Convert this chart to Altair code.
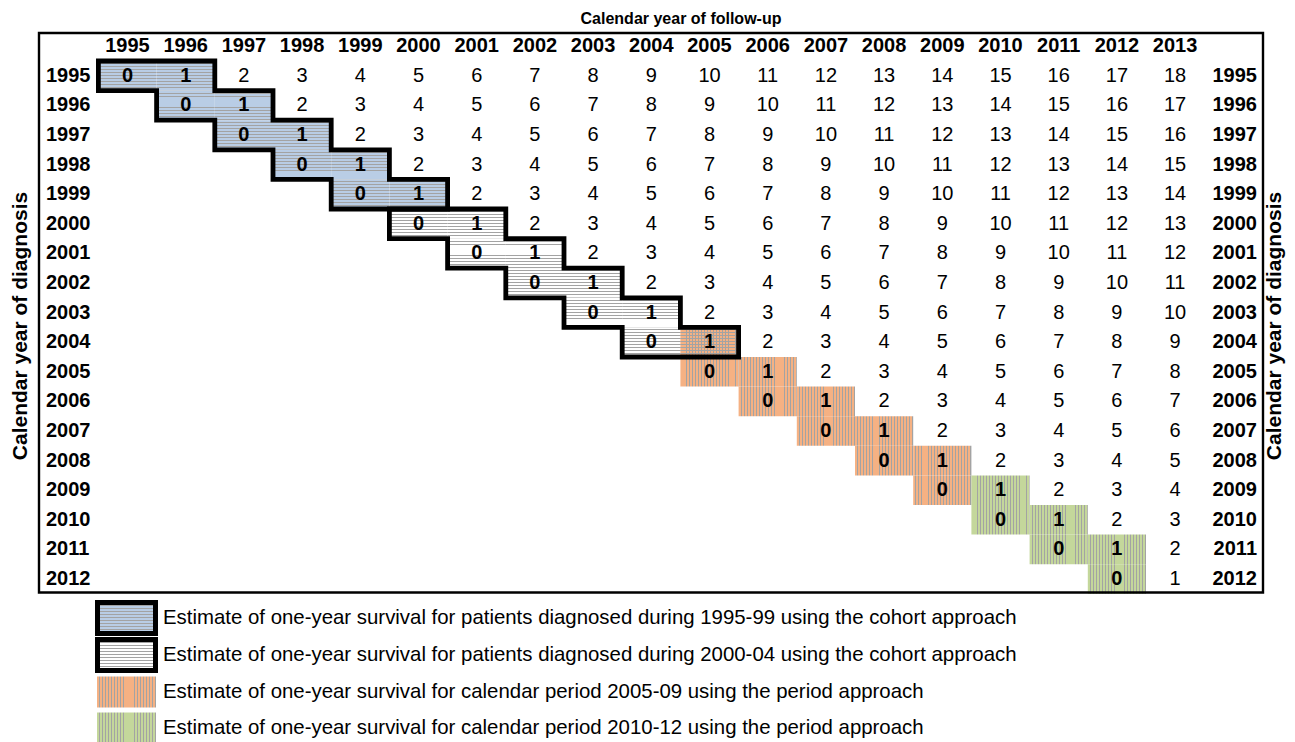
import altair as alt
import pandas as pd

# ---------------- data ----------------
diag_years = [1995, 1996, 1997, 1998, 1999, 2000, 2001, 2002, 2003, 2004,
              2005, 2006, 2007, 2008, 2009, 2010, 2011, 2012]
follow_years = [1995, 1996, 1997, 1998, 1999, 2000, 2001, 2002, 2003, 2004,
                2005, 2006, 2007, 2008, 2009, 2010, 2011, 2012, 2013]
cohort_a = [1995, 1996, 1997, 1998, 1999]      # diagnosed 1995-99 (cohort)
cohort_b = [2000, 2001, 2002, 2003, 2004]      # diagnosed 2000-04 (cohort)
period_a = [2005, 2006, 2007, 2008, 2009]      # calendar period 2005-09
period_b = [2010, 2011, 2012]                  # calendar period 2010-12
legend_labels = [
    "Estimate of one-year survival for patients diagnosed during 1995-99 using the cohort approach",
    "Estimate of one-year survival for patients diagnosed during 2000-04 using the cohort approach",
    "Estimate of one-year survival for calendar period 2005-09 using the period approach",
    "Estimate of one-year survival for calendar period 2010-12 using the period approach",
]
top_title = "Calendar year of follow-up"
side_title = "Calendar year of diagnosis"

# ---------------- layout / style ----------------
FONT = "Liberation Sans, Arial, sans-serif"
W, H = 1279, 734
COL_W, ROW_H = 58.2, 29.6
X0, Y0 = 90.4, 53.0
FIRST = diag_years[0]
FS = 20

BLUE, WHITE, ORANGE, GREEN = "#b9cde5", "#ffffff", "#f5b183", "#c4d79b"
LINE = "#a3a3a3"

xscale = alt.Scale(domain=[-X0 / COL_W, (W - X0) / COL_W], nice=False, zero=False)
yscale = alt.Scale(domain=[-Y0 / ROW_H, (H - Y0) / ROW_H], nice=False, zero=False, reverse=True)


def stripes(bg, line, vertical, n, frac=0.3):
    stops = []
    for i in range(n):
        a = i / n
        b = (i + 1 - frac) / n
        c = (i + 1) / n
        stops += [alt.GradientStop(offset=round(a, 4), color=bg),
                  alt.GradientStop(offset=round(b, 4), color=bg),
                  alt.GradientStop(offset=round(b, 4), color=line),
                  alt.GradientStop(offset=round(min(c, 1), 4), color=line)]
    if vertical:
        return alt.LinearGradient(gradient="linear", stops=stops, x1=0, x2=1, y1=0, y2=0)
    return alt.LinearGradient(gradient="linear", stops=stops, x1=0, x2=0, y1=0, y2=1)


# ---------------- cell table ----------------
rows = []
for d in diag_years:
    for f in follow_years:
        if f < d:
            continue
        val = f - d
        coh = ""
        if val <= 1 and d in cohort_a:
            coh = "A"
        elif val <= 1 and d in cohort_b:
            coh = "B"
        per = ""
        if val <= 1 and f in period_a:
            per = "A"
        elif val <= 1 and f in period_b:
            per = "B"
        rows.append(dict(diag=d, follow=f, value=val, cohort=coh, period=per,
                         hi=(coh != "" or per != "")))
cells = pd.DataFrame(rows)
cells["u0"] = cells["follow"] - FIRST
cells["u1"] = cells["u0"] + 1
cells["uc"] = cells["u0"] + 0.5
cells["v0"] = cells["diag"] - FIRST
cells["v1"] = cells["v0"] + 1
cells["vc"] = cells["v0"] + 0.5

rect_enc = dict(
    x=alt.X("u0:Q", scale=xscale, axis=None), x2="u1:Q",
    y=alt.Y("v0:Q", scale=yscale, axis=None), y2="v1:Q",
)
base = alt.Chart(cells)

n_h = 10
n_v = 19
layer_blue = base.transform_filter("datum.cohort == 'A'").mark_rect(
    fill=stripes(BLUE, LINE, False, n_h), strokeWidth=0).encode(**rect_enc)
layer_white = base.transform_filter("datum.cohort == 'B'").mark_rect(
    fill=stripes(WHITE, LINE, False, n_h), strokeWidth=0).encode(**rect_enc)
layer_orange = base.transform_filter("datum.period == 'A'").mark_rect(
    fill=stripes(ORANGE, LINE, True, n_v), strokeWidth=0).encode(**rect_enc)
layer_green = base.transform_filter("datum.period == 'B'").mark_rect(
    fill=stripes(GREEN, LINE, True, n_v), strokeWidth=0).encode(**rect_enc)
layer_cross = base.transform_filter("datum.cohort != '' && datum.period != ''").mark_rect(
    fill=stripes("rgba(255,255,255,0)", LINE, False, n_h), strokeWidth=0).encode(**rect_enc)

# cohort outlines (staircase)
outline_rows = []
for name, coh in (("A", cohort_a), ("B", cohort_b)):
    r0, r1 = coh[0] - FIRST, coh[-1] - FIRST
    pts = [(r0, r0)]
    for r in range(r0, r1 + 1):
        pts.append((r + 2, r))
        pts.append((r + 2, r + 1))
    pts.append((r1, r1 + 1))
    for r in range(r1, r0, -1):
        pts.append((r, r))
        pts.append((r - 1, r))
    pts.append((r0, r0))
    pts.append((r0 + 2, r0))
    for i, (u, v) in enumerate(pts):
        outline_rows.append(dict(group=name, order=i, u=u, v=v))
outline = pd.DataFrame(outline_rows)
layer_outline = alt.Chart(outline).mark_line(
    color="black", strokeWidth=4.8, strokeJoin="miter", strokeCap="square"
).encode(
    x=alt.X("u:Q", scale=xscale, axis=None),
    y=alt.Y("v:Q", scale=yscale, axis=None),
    detail="group:N", order="order:Q",
)

txt_enc = dict(
    x=alt.X("uc:Q", scale=xscale, axis=None),
    y=alt.Y("vc:Q", scale=yscale, axis=None),
    text="value:Q",
)
layer_num = base.transform_filter("!datum.hi").mark_text(
    font=FONT, fontSize=FS, color="black", baseline="middle", align="center").encode(**txt_enc)
layer_num_b = base.transform_filter("datum.hi").mark_text(
    font=FONT, fontSize=FS, fontWeight="bold", color="black", baseline="middle",
    align="center").encode(**txt_enc)

# header labels
hdr = pd.DataFrame({"year": follow_years})
hdr["uc"] = hdr["year"] - FIRST + 0.5
hdr["vc"] = -0.5
layer_hdr = alt.Chart(hdr).mark_text(
    font=FONT, fontSize=FS, fontWeight="bold", color="black", baseline="middle", align="center"
).encode(x=alt.X("uc:Q", scale=xscale, axis=None),
         y=alt.Y("vc:Q", scale=yscale, axis=None), text="year:N")

# row labels
rl = pd.DataFrame({"year": diag_years})
rl["vc"] = rl["year"] - FIRST + 0.5
layer_rl = alt.Chart(rl).mark_text(
    font=FONT, fontSize=FS, fontWeight="bold", color="black", baseline="middle", align="left"
).encode(x=alt.value(38), y=alt.Y("vc:Q", scale=yscale, axis=None), text="year:N")
layer_rr = alt.Chart(rl).mark_text(
    font=FONT, fontSize=FS, fontWeight="bold", color="black", baseline="middle", align="right"
).encode(x=alt.value(1249), y=alt.Y("vc:Q", scale=yscale, axis=None), text="year:N")

# table border
one = pd.DataFrame({"k": [0]})
layer_border = alt.Chart(one).mark_rect(
    filled=False, stroke="black", strokeWidth=2.4
).encode(x=alt.value(31), x2=alt.value(1255), y=alt.value(25), y2=alt.value(584.5))

# titles
tt = pd.DataFrame({"t": [top_title]})
layer_tt = alt.Chart(tt).mark_text(
    font=FONT, fontSize=16, fontWeight="bold", color="black", baseline="middle", align="center"
).encode(x=alt.value(673), y=alt.value(10.5), text="t:N")
st = pd.DataFrame({"t": [side_title]})
layer_lt = alt.Chart(st).mark_text(
    font=FONT, fontSize=21, fontWeight="bold", color="black", baseline="middle", align="center",
    angle=270
).encode(x=alt.value(12.5), y=alt.value(318), text="t:N")
layer_rt = alt.Chart(st).mark_text(
    font=FONT, fontSize=21, fontWeight="bold", color="black", baseline="middle", align="center",
    angle=270
).encode(x=alt.value(1267), y=alt.value(318), text="t:N")

# legend
leg = pd.DataFrame({"label": legend_labels, "idx": list(range(len(legend_labels)))})
leg_centers = [610, 647, 684, 720]
leg_fills = [stripes(BLUE, LINE, False, 10), stripes(WHITE, LINE, False, 10),
             stripes(ORANGE, LINE, True, 20), stripes(GREEN, LINE, True, 20)]
leg_layers = []
for i, lab in enumerate(legend_labels):
    cy = leg_centers[i]
    d = alt.Chart(leg).transform_filter(f"datum.idx == {i}")
    if i < 2:
        leg_layers.append(d.mark_rect(fill=leg_fills[i], stroke="black", strokeWidth=5).encode(
            x=alt.value(89.5), x2=alt.value(147.5), y=alt.value(cy - 15.5), y2=alt.value(cy + 15.5)))
    else:
        leg_layers.append(d.mark_rect(fill=leg_fills[i], strokeWidth=0).encode(
            x=alt.value(89), x2=alt.value(148), y=alt.value(cy - 15.5), y2=alt.value(cy + 15.5)))
    leg_layers.append(d.mark_text(font=FONT, fontSize=20.4, color="black", baseline="middle",
                                  align="left").encode(
        x=alt.value(155), y=alt.value(cy), text="label:N"))

chart = alt.layer(
    layer_blue, layer_white, layer_orange, layer_green, layer_cross,
    layer_outline, layer_num, layer_num_b, layer_hdr, layer_rl, layer_rr,
    layer_border, layer_tt, layer_lt, layer_rt, *leg_layers
).properties(
    width=W, height=H, padding=0, autosize=alt.AutoSizeParams(type="none"),
    background="white",
).configure_view(stroke=None)

chart.save("out.html", embed_options={"renderer": "svg", "actions": False})
